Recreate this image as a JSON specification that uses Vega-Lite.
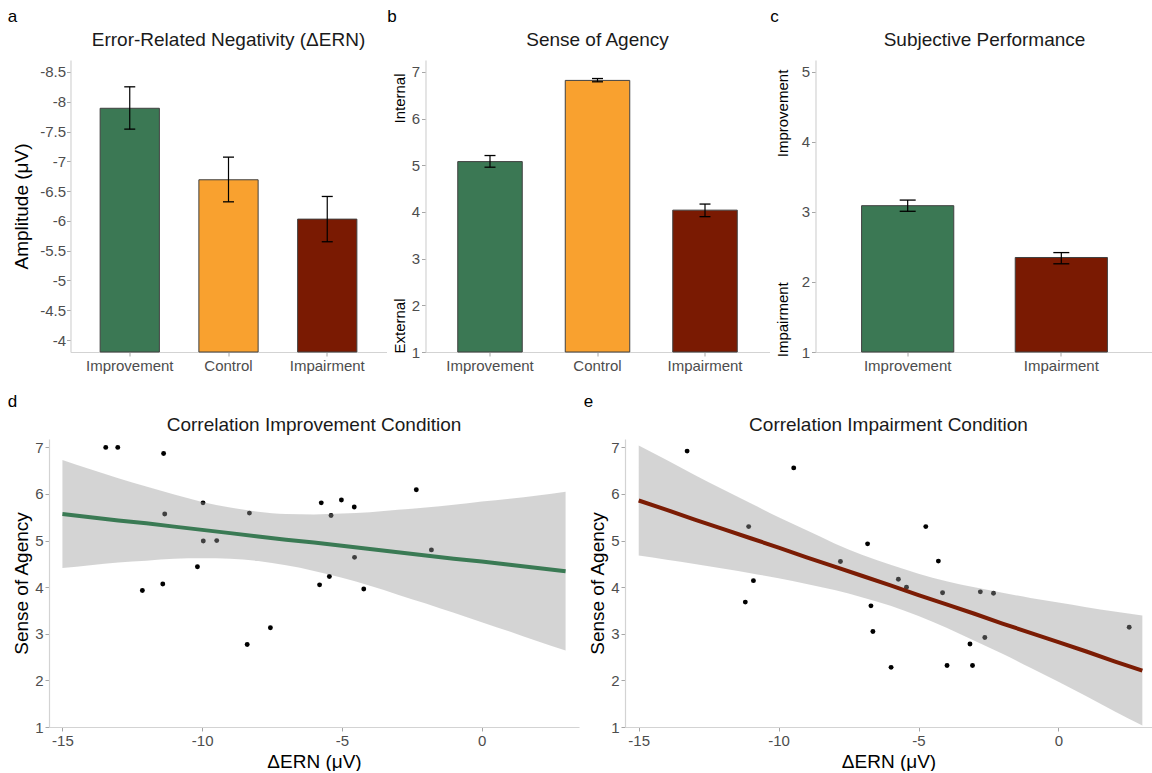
{
  "$schema": "https://vega.github.io/schema/vega-lite/v6.json",
  "padding": {"left": 7, "top": 8, "right": 0, "bottom": 0},
  "background": "white",
  "datasets": {
    "erp": [
      {"cond": "Improvement", "mean": -7.89, "lo": -7.54, "hi": -8.25},
      {"cond": "Control", "mean": -6.69, "lo": -6.32, "hi": -7.07},
      {"cond": "Impairment", "mean": -6.03, "lo": -5.65, "hi": -6.41}
    ],
    "soa": [
      {"cond": "Improvement", "mean": 5.08, "lo": 4.96, "hi": 5.21},
      {"cond": "Control", "mean": 6.82, "lo": 6.79, "hi": 6.86},
      {"cond": "Impairment", "mean": 4.04, "lo": 3.90, "hi": 4.17}
    ],
    "perf": [
      {"cond": "Improvement", "mean": 3.09, "lo": 3.01, "hi": 3.17},
      {"cond": "Impairment", "mean": 2.35, "lo": 2.26, "hi": 2.42}
    ],
    "impPts": [
      {"ern": -13.45, "soa": 7.0}, {"ern": -13.02, "soa": 7.0}, {"ern": -11.38, "soa": 6.87},
      {"ern": -11.34, "soa": 5.57}, {"ern": -9.97, "soa": 5.81}, {"ern": -9.96, "soa": 4.99},
      {"ern": -9.48, "soa": 5.0}, {"ern": -8.31, "soa": 5.59}, {"ern": -10.17, "soa": 4.44},
      {"ern": -11.41, "soa": 4.07}, {"ern": -12.14, "soa": 3.93}, {"ern": -7.56, "soa": 3.13},
      {"ern": -8.39, "soa": 2.77}, {"ern": -5.74, "soa": 5.81}, {"ern": -5.02, "soa": 5.87},
      {"ern": -4.56, "soa": 5.72}, {"ern": -5.39, "soa": 5.54}, {"ern": -2.34, "soa": 6.09},
      {"ern": -1.80, "soa": 4.80}, {"ern": -4.55, "soa": 4.64}, {"ern": -5.45, "soa": 4.23},
      {"ern": -5.80, "soa": 4.05}, {"ern": -4.22, "soa": 3.96}
    ],
    "impFit": [
      {"ern": -15, "fit": 5.57, "lower": 4.41, "upper": 6.73},
      {"ern": -14, "fit": 5.50, "lower": 4.47, "upper": 6.53},
      {"ern": -13, "fit": 5.43, "lower": 4.53, "upper": 6.34},
      {"ern": -12, "fit": 5.37, "lower": 4.57, "upper": 6.16},
      {"ern": -11, "fit": 5.30, "lower": 4.61, "upper": 5.99},
      {"ern": -10, "fit": 5.23, "lower": 4.62, "upper": 5.83},
      {"ern": -9, "fit": 5.16, "lower": 4.61, "upper": 5.71},
      {"ern": -8, "fit": 5.09, "lower": 4.56, "upper": 5.62},
      {"ern": -7, "fit": 5.02, "lower": 4.47, "upper": 5.57},
      {"ern": -6, "fit": 4.96, "lower": 4.35, "upper": 5.56},
      {"ern": -5, "fit": 4.89, "lower": 4.20, "upper": 5.58},
      {"ern": -4, "fit": 4.82, "lower": 4.03, "upper": 5.61},
      {"ern": -3, "fit": 4.75, "lower": 3.84, "upper": 5.66},
      {"ern": -2, "fit": 4.68, "lower": 3.65, "upper": 5.71},
      {"ern": -1, "fit": 4.61, "lower": 3.45, "upper": 5.77},
      {"ern": 0, "fit": 4.55, "lower": 3.25, "upper": 5.84},
      {"ern": 1, "fit": 4.48, "lower": 3.05, "upper": 5.90},
      {"ern": 2, "fit": 4.41, "lower": 2.84, "upper": 5.97},
      {"ern": 3, "fit": 4.34, "lower": 2.64, "upper": 6.05}
    ],
    "impairPts": [
      {"ern": -13.27, "soa": 6.92}, {"ern": -9.46, "soa": 6.56}, {"ern": -11.07, "soa": 5.30},
      {"ern": -10.90, "soa": 4.14}, {"ern": -11.19, "soa": 3.68}, {"ern": -6.82, "soa": 4.93},
      {"ern": -7.79, "soa": 4.55}, {"ern": -6.70, "soa": 3.60}, {"ern": -6.63, "soa": 3.05},
      {"ern": -5.98, "soa": 2.28}, {"ern": -4.74, "soa": 5.30}, {"ern": -4.29, "soa": 4.56},
      {"ern": -5.72, "soa": 4.17}, {"ern": -5.43, "soa": 4.00}, {"ern": -4.14, "soa": 3.88},
      {"ern": -2.79, "soa": 3.90}, {"ern": -2.32, "soa": 3.87}, {"ern": -2.63, "soa": 2.92},
      {"ern": -3.16, "soa": 2.78}, {"ern": -3.98, "soa": 2.32}, {"ern": -3.07, "soa": 2.32},
      {"ern": 2.53, "soa": 3.14}
    ],
    "impairFit": [
      {"ern": -15, "fit": 5.86, "lower": 4.68, "upper": 7.04},
      {"ern": -14, "fit": 5.66, "lower": 4.59, "upper": 6.73},
      {"ern": -13, "fit": 5.45, "lower": 4.50, "upper": 6.41},
      {"ern": -12, "fit": 5.25, "lower": 4.40, "upper": 6.10},
      {"ern": -11, "fit": 5.05, "lower": 4.30, "upper": 5.80},
      {"ern": -10, "fit": 4.85, "lower": 4.19, "upper": 5.50},
      {"ern": -9, "fit": 4.64, "lower": 4.07, "upper": 5.22},
      {"ern": -8, "fit": 4.44, "lower": 3.94, "upper": 4.94},
      {"ern": -7, "fit": 4.24, "lower": 3.78, "upper": 4.69},
      {"ern": -6, "fit": 4.04, "lower": 3.60, "upper": 4.48},
      {"ern": -5, "fit": 3.83, "lower": 3.38, "upper": 4.29},
      {"ern": -4, "fit": 3.63, "lower": 3.13, "upper": 4.13},
      {"ern": -3, "fit": 3.43, "lower": 2.85, "upper": 4.00},
      {"ern": -2, "fit": 3.22, "lower": 2.57, "upper": 3.88},
      {"ern": -1, "fit": 3.02, "lower": 2.27, "upper": 3.77},
      {"ern": 0, "fit": 2.82, "lower": 1.97, "upper": 3.67},
      {"ern": 1, "fit": 2.62, "lower": 1.66, "upper": 3.57},
      {"ern": 2, "fit": 2.41, "lower": 1.34, "upper": 3.48},
      {"ern": 3, "fit": 2.21, "lower": 1.03, "upper": 3.39}
    ]
  },
  "columns": 1,
  "align": "none",
  "spacing": 20,
  "concat": [
    {
      "spacing": -42.5,
      "hconcat": [
        {
          "width": 1, "height": 1,
          "data": {"values": []},
          "mark": {"type": "point", "opacity": 0}
        },
        {
          "spacing": 0,
          "hconcat": [
            {
              "title": {"text": "a", "anchor": "start", "frame": "bounds", "fontSize": 17, "offset": 5, "dx": -5, "color": "#000000"},
              "vconcat": [
                {
                  "width": 316, "height": 292,
                  "title": {"text": "Error-Related Negativity (ΔERN)", "offset": 10},
                  "data": {"name": "erp"},
                  "encoding": {
                    "x": {"field": "cond", "type": "nominal", "sort": ["Improvement", "Control", "Impairment"],
                          "scale": {"paddingInner": 0.4, "paddingOuter": 0.3},
                          "axis": {"title": null, "labelAngle": 0}}
                  },
                  "layer": [
                    {
                      "mark": {"type": "bar", "stroke": "#404040", "strokeWidth": 1},
                      "encoding": {
                        "y": {"field": "mean", "type": "quantitative",
                              "scale": {"domain": [-3.8, -8.7], "nice": false, "zero": false},
                              "axis": {"values": [-8.5, -8, -7.5, -7, -6.5, -6, -5.5, -5, -4.5, -4], "tickCount": 20,
                                       "labelExpr": "toString(datum.value)", "labelOverlap": false,
                                       "title": "Amplitude (μV)", "titlePadding": 8, "labelPadding": 1}},
                        "y2": {"datum": -3.8},
                        "color": {"field": "cond", "type": "nominal",
                                  "scale": {"domain": ["Improvement", "Control", "Impairment"], "range": ["#3B7854", "#F9A12F", "#7A1A02"]},
                                  "legend": null}
                      }
                    },
                    {
                      "mark": {"type": "rule", "color": "#000000", "strokeWidth": 1.2},
                      "encoding": {"y": {"field": "lo", "type": "quantitative"}, "y2": {"field": "hi"}}
                    },
                    {
                      "mark": {"type": "tick", "color": "#000000", "size": 11, "thickness": 1.3, "opacity": 1},
                      "encoding": {"y": {"field": "lo", "type": "quantitative"}}
                    },
                    {
                      "mark": {"type": "tick", "color": "#000000", "size": 11, "thickness": 1.3, "opacity": 1},
                      "encoding": {"y": {"field": "hi", "type": "quantitative"}}
                    }
                  ]
                }
              ]
            },
            {
              "title": {"text": "b", "anchor": "start", "frame": "bounds", "fontSize": 17, "offset": 5, "dx": -5, "color": "#000000"},
              "vconcat": [
                {
                  "width": 344, "height": 292,
                  "title": {"text": "Sense of Agency", "offset": 10},
                  "data": {"name": "soa"},
                  "encoding": {
                    "x": {"field": "cond", "type": "nominal", "sort": ["Improvement", "Control", "Impairment"],
                          "scale": {"paddingInner": 0.4, "paddingOuter": 0.3},
                          "axis": {"title": null, "labelAngle": 0}}
                  },
                  "layer": [
                    {
                      "mark": {"type": "bar", "stroke": "#404040", "strokeWidth": 1},
                      "encoding": {
                        "y": {"field": "mean", "type": "quantitative",
                              "scale": {"domain": [1, 7.257], "nice": false, "zero": false},
                              "axis": {"values": [1, 2, 3, 4, 5, 6, 7], "labelExpr": "toString(datum.value)",
                                       "title": "External\u00a0\u00a0\u00a0\u00a0\u00a0\u00a0\u00a0\u00a0\u00a0\u00a0\u00a0\u00a0\u00a0\u00a0\u00a0\u00a0\u00a0\u00a0\u00a0\u00a0\u00a0\u00a0\u00a0\u00a0\u00a0\u00a0\u00a0\u00a0\u00a0\u00a0\u00a0\u00a0\u00a0\u00a0\u00a0\u00a0\u00a0\u00a0\u00a0\u00a0\u00a0\u00a0Internal",
                                       "titleFontSize": 15, "titlePadding": 4, "titleY": 153}},
                        "y2": {"datum": 1},
                        "color": {"field": "cond", "type": "nominal",
                                  "scale": {"domain": ["Improvement", "Control", "Impairment"], "range": ["#3B7854", "#F9A12F", "#7A1A02"]},
                                  "legend": null}
                      }
                    },
                    {
                      "mark": {"type": "rule", "color": "#000000", "strokeWidth": 1.2},
                      "encoding": {"y": {"field": "lo", "type": "quantitative"}, "y2": {"field": "hi"}}
                    },
                    {
                      "mark": {"type": "tick", "color": "#000000", "size": 11, "thickness": 1.3, "opacity": 1},
                      "encoding": {"y": {"field": "lo", "type": "quantitative"}}
                    },
                    {
                      "mark": {"type": "tick", "color": "#000000", "size": 11, "thickness": 1.3, "opacity": 1},
                      "encoding": {"y": {"field": "hi", "type": "quantitative"}}
                    }
                  ]
                }
              ]
            },
            {
              "title": {"text": "c", "anchor": "start", "frame": "bounds", "fontSize": 17, "offset": 5, "dx": -5, "color": "#000000"},
              "vconcat": [
                {
                  "width": 338, "height": 292,
                  "title": {"text": "Subjective Performance", "offset": 10},
                  "data": {"name": "perf"},
                  "encoding": {
                    "x": {"field": "cond", "type": "nominal", "sort": ["Improvement", "Impairment"],
                          "scale": {"paddingInner": 0.4, "paddingOuter": 0.3},
                          "axis": {"title": null, "labelAngle": 0}}
                  },
                  "layer": [
                    {
                      "mark": {"type": "bar", "stroke": "#404040", "strokeWidth": 1},
                      "encoding": {
                        "y": {"field": "mean", "type": "quantitative",
                              "scale": {"domain": [1, 5.171], "nice": false, "zero": false},
                              "axis": {"values": [1, 2, 3, 4, 5], "labelExpr": "toString(datum.value)",
                                       "title": "Impairment\u00a0\u00a0\u00a0\u00a0\u00a0\u00a0\u00a0\u00a0\u00a0\u00a0\u00a0\u00a0\u00a0\u00a0\u00a0\u00a0\u00a0\u00a0\u00a0\u00a0\u00a0\u00a0\u00a0\u00a0\u00a0\u00a0\u00a0\u00a0\u00a0\u00a0Improvement",
                                       "titleFontSize": 15, "titlePadding": 11, "titleY": 153}},
                        "y2": {"datum": 1},
                        "color": {"field": "cond", "type": "nominal",
                                  "scale": {"domain": ["Improvement", "Impairment"], "range": ["#3B7854", "#7A1A02"]},
                                  "legend": null}
                      }
                    },
                    {
                      "mark": {"type": "rule", "color": "#000000", "strokeWidth": 1.2},
                      "encoding": {"y": {"field": "lo", "type": "quantitative"}, "y2": {"field": "hi"}}
                    },
                    {
                      "mark": {"type": "tick", "color": "#000000", "size": 16, "thickness": 1.3, "opacity": 1},
                      "encoding": {"y": {"field": "lo", "type": "quantitative"}}
                    },
                    {
                      "mark": {"type": "tick", "color": "#000000", "size": 16, "thickness": 1.3, "opacity": 1},
                      "encoding": {"y": {"field": "hi", "type": "quantitative"}}
                    }
                  ]
                }
              ]
            }
          ]
        }
      ]
    },
    {
      "spacing": 4,
      "hconcat": [
        {
          "title": {"text": "d", "anchor": "start", "frame": "bounds", "fontSize": 17, "offset": 5, "dx": -5, "color": "#000000"},
          "vconcat": [
            {
              "width": 530, "height": 288,
              "title": {"text": "Correlation Improvement Condition", "offset": 4},
              "layer": [
                {
                  "data": {"name": "impPts"},
                  "mark": {"type": "circle", "size": 24, "color": "#000000", "opacity": 1},
                  "encoding": {
                    "x": {"field": "ern", "type": "quantitative",
                          "scale": {"domain": [-15.48, 3.48], "nice": false, "zero": false},
                          "axis": {"values": [-15, -10, -5, 0], "labelExpr": "toString(datum.value)", "title": "ΔERN (μV)", "titlePadding": 4}},
                    "y": {"field": "soa", "type": "quantitative",
                          "scale": {"domain": [1, 7.18], "nice": false, "zero": false},
                          "axis": {"values": [1, 2, 3, 4, 5, 6, 7], "labelExpr": "toString(datum.value)", "title": "Sense of Agency", "titlePadding": 3}}
                  }
                },
                {
                  "data": {"name": "impFit"},
                  "mark": {"type": "area", "color": "#999999", "opacity": 0.42, "interpolate": "monotone"},
                  "encoding": {
                    "x": {"field": "ern", "type": "quantitative"},
                    "y": {"field": "lower", "type": "quantitative"},
                    "y2": {"field": "upper"}
                  }
                },
                {
                  "data": {"name": "impFit"},
                  "mark": {"type": "line", "color": "#3A7A54", "strokeWidth": 4},
                  "encoding": {
                    "x": {"field": "ern", "type": "quantitative"},
                    "y": {"field": "fit", "type": "quantitative"}
                  }
                }
              ]
            }
          ]
        },
        {
          "title": {"text": "e", "anchor": "start", "frame": "bounds", "fontSize": 17, "offset": 5, "dx": -5, "color": "#000000"},
          "vconcat": [
            {
              "width": 527, "height": 288,
              "title": {"text": "Correlation Impairment Condition", "offset": 4},
              "layer": [
                {
                  "data": {"name": "impairPts"},
                  "mark": {"type": "circle", "size": 24, "color": "#000000", "opacity": 1},
                  "encoding": {
                    "x": {"field": "ern", "type": "quantitative",
                          "scale": {"domain": [-15.49, 3.345], "nice": false, "zero": false},
                          "axis": {"values": [-15, -10, -5, 0], "labelExpr": "toString(datum.value)", "title": "ΔERN (μV)", "titlePadding": 4}},
                    "y": {"field": "soa", "type": "quantitative",
                          "scale": {"domain": [1, 7.18], "nice": false, "zero": false},
                          "axis": {"values": [1, 2, 3, 4, 5, 6, 7], "labelExpr": "toString(datum.value)", "title": "Sense of Agency", "titlePadding": 3}}
                  }
                },
                {
                  "data": {"name": "impairFit"},
                  "mark": {"type": "area", "color": "#999999", "opacity": 0.42, "interpolate": "monotone"},
                  "encoding": {
                    "x": {"field": "ern", "type": "quantitative"},
                    "y": {"field": "lower", "type": "quantitative"},
                    "y2": {"field": "upper"}
                  }
                },
                {
                  "data": {"name": "impairFit"},
                  "mark": {"type": "line", "color": "#7B1C04", "strokeWidth": 4},
                  "encoding": {
                    "x": {"field": "ern", "type": "quantitative"},
                    "y": {"field": "fit", "type": "quantitative"}
                  }
                }
              ]
            }
          ]
        }
      ]
    }
  ],
  "config": {
    "font": "Liberation Sans",
    "view": {"stroke": null},
    "axis": {
      "grid": false, "domainColor": "#D3D3D3", "domainWidth": 1.2,
      "tickColor": "#A6A6A6", "tickSize": 4, "tickWidth": 1,
      "labelFontSize": 15, "labelColor": "#4D4D4D", "labelPadding": 2, "labelFlush": false,
      "titleFontSize": 19, "titleFontWeight": "normal", "titleColor": "#000000"
    },
    "title": {"fontSize": 19, "fontWeight": "normal", "color": "#1A1A1A"}
  }
}
